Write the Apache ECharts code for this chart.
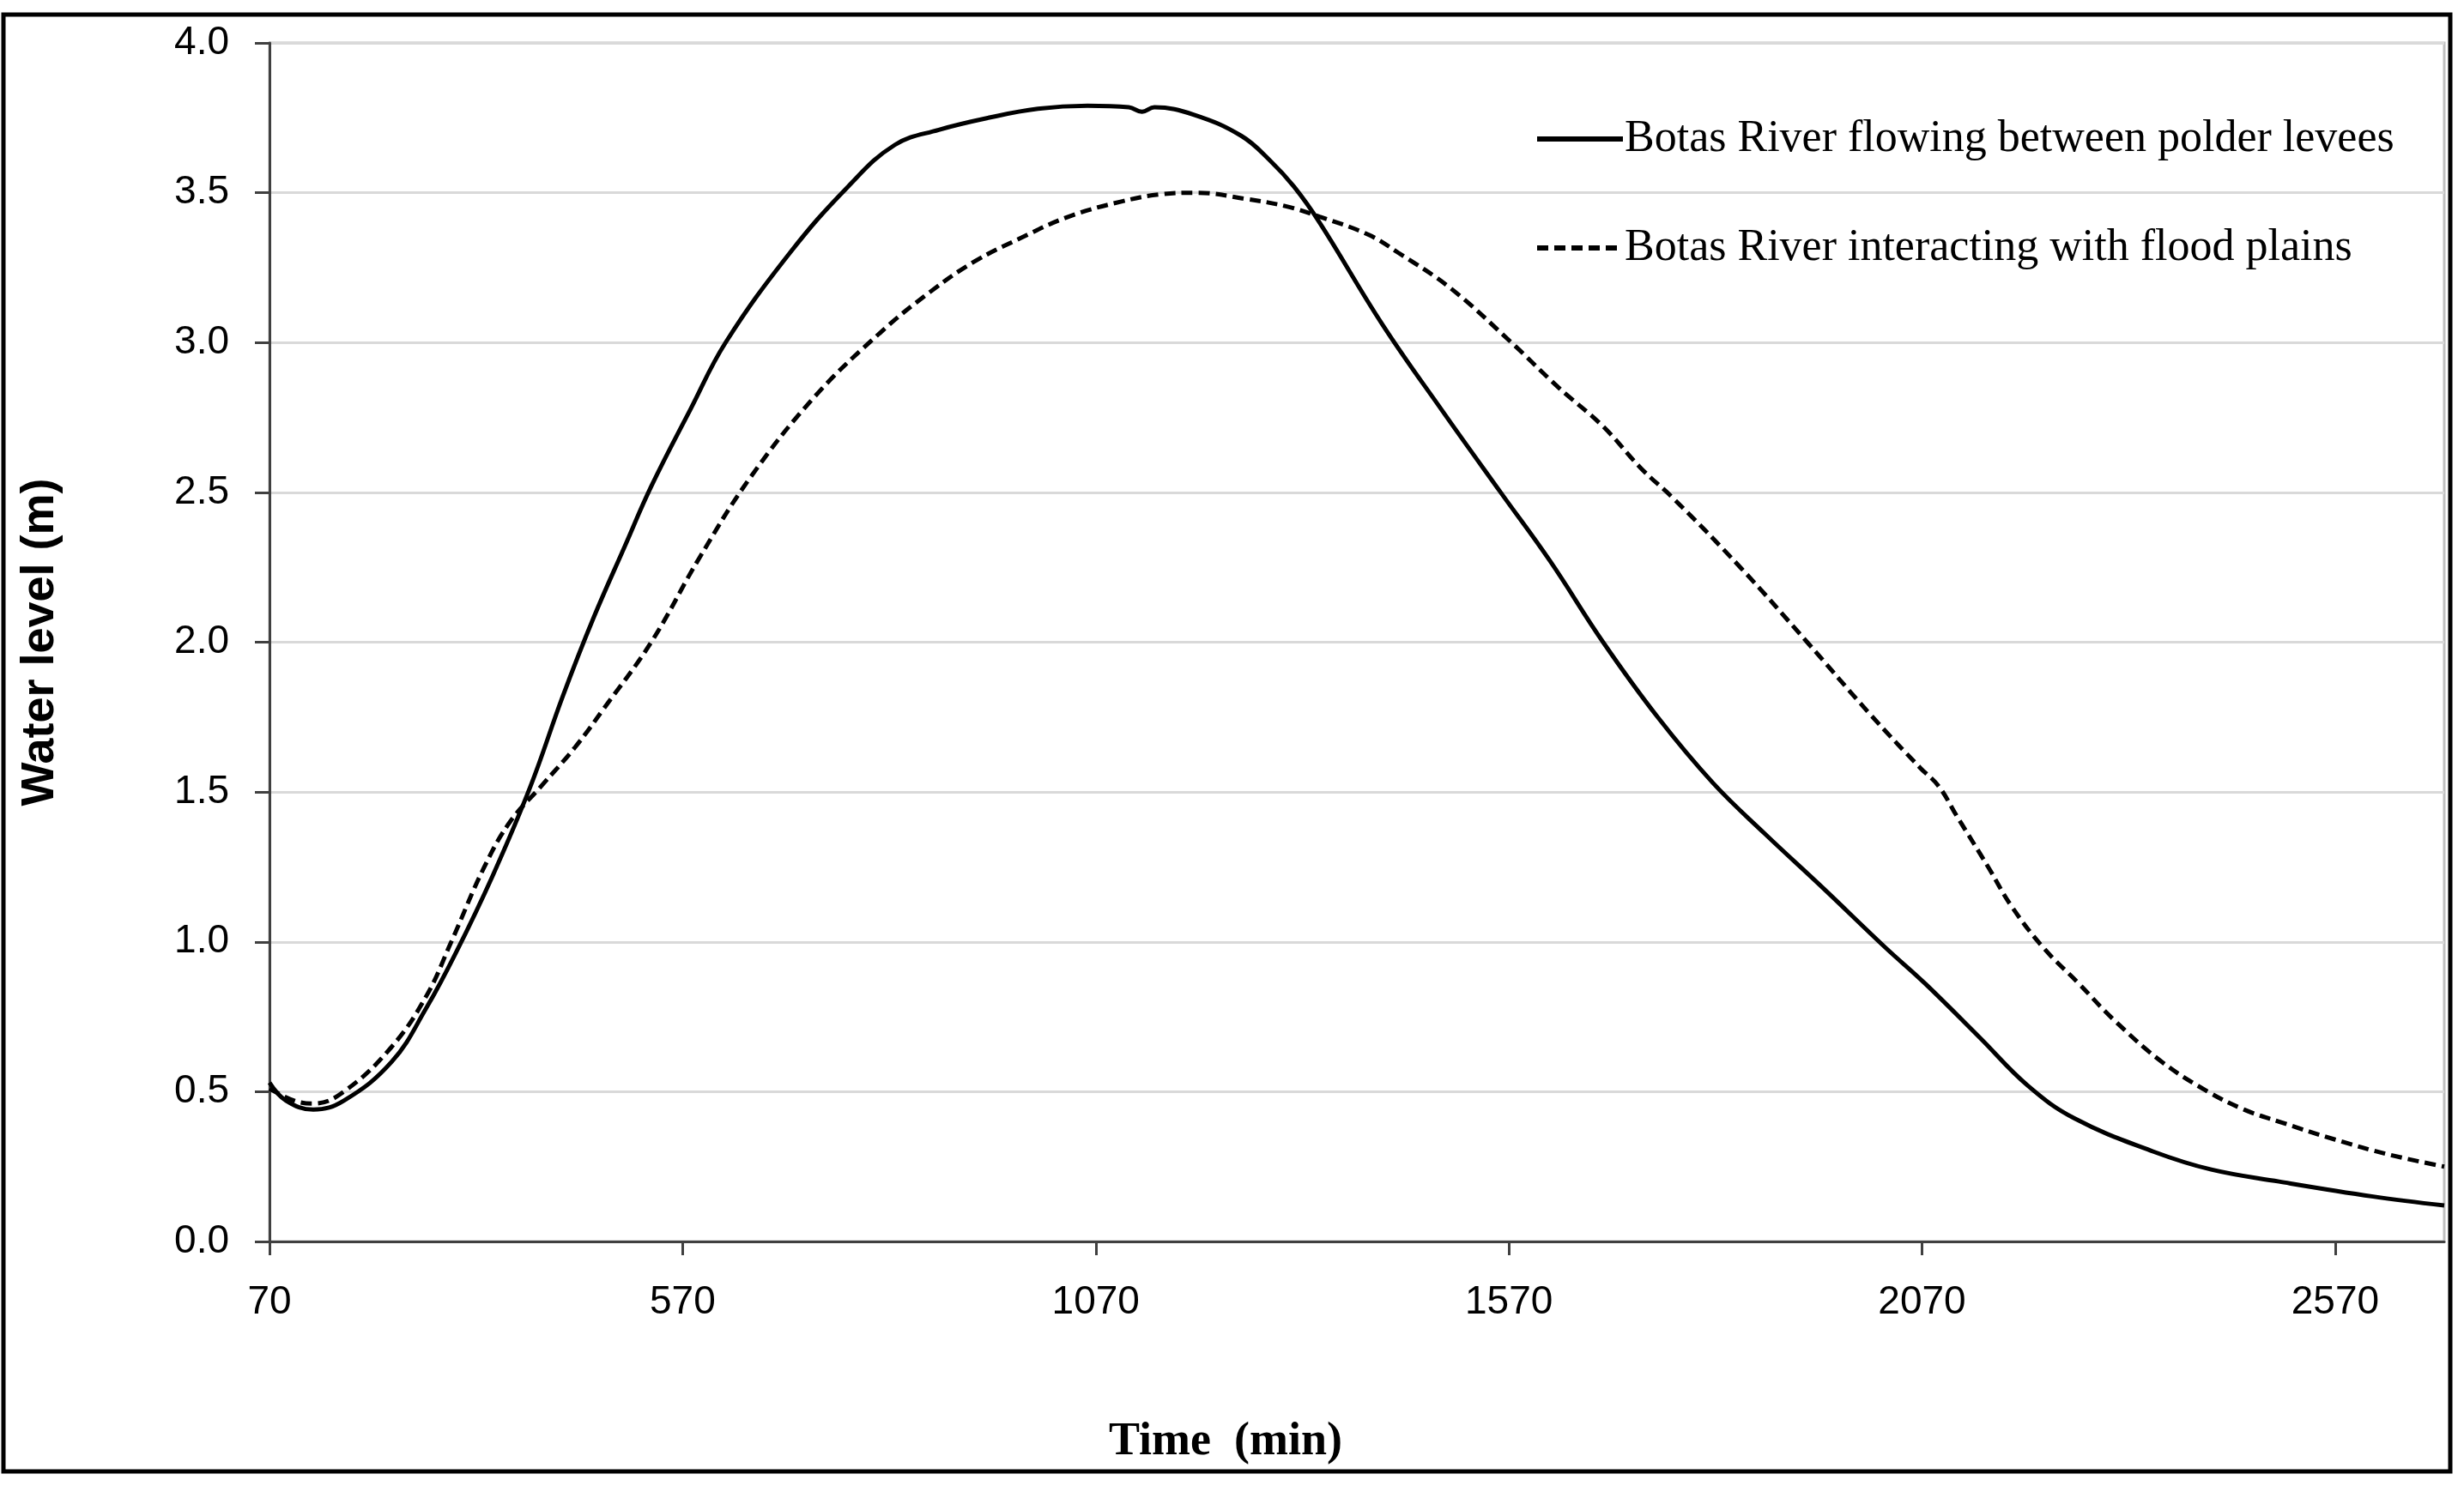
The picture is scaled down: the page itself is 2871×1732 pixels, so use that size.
<!DOCTYPE html>
<html>
<head>
<meta charset="utf-8">
<script src="https://cdn.jsdelivr.net/npm/echarts@6/dist/echarts.min.js"></script>
<style>
html,body{margin:0;padding:0;background:#fff;}
#chart{width:2871px;height:1732px;}
</style>
</head>
<body>
<div id="chart"></div>
<script>
// ---- data ----
const seriesNames = [
  'Botas River flowing between polder levees',
  'Botas River interacting with flood plains'
];
const xTickValues = [70, 570, 1070, 1570, 2070, 2570];
const yTickValues = [0, 0.5, 1, 1.5, 2, 2.5, 3, 3.5, 4];

const polderTime = [70, 90, 123, 160, 218, 260, 295, 340, 386, 425, 462, 500, 532, 580, 622, 700, 770, 827, 880, 940, 1000, 1060, 1110, 1126, 1141, 1189, 1246, 1280, 1310, 1341, 1417, 1490, 1560, 1620, 1684, 1750, 1817, 1880, 1950, 2026, 2074, 2140, 2198, 2255, 2350, 2420, 2502, 2616, 2702];
const polderLevel = [0.53, 0.47, 0.44, 0.47, 0.60, 0.78, 0.96, 1.22, 1.52, 1.82, 2.08, 2.32, 2.52, 2.78, 3.00, 3.30, 3.52, 3.66, 3.71, 3.75, 3.78, 3.79, 3.785, 3.77, 3.785, 3.76, 3.69, 3.61, 3.52, 3.40, 3.06, 2.77, 2.50, 2.27, 2.00, 1.75, 1.53, 1.36, 1.18, 0.98, 0.86, 0.68, 0.52, 0.41, 0.30, 0.24, 0.20, 0.15, 0.12];

const floodTime = [70, 100, 123, 160, 218, 260, 290, 330, 361, 399, 440, 475, 532, 590, 652, 730, 808, 870, 923, 980, 1037, 1100, 1150, 1193, 1250, 1300, 1341, 1400, 1436, 1500, 1573, 1630, 1684, 1730, 1769, 1850, 1931, 2007, 2068, 2090, 2112, 2150, 2178, 2217, 2260, 2302, 2360, 2416, 2460, 2502, 2570, 2635, 2702];
const floodLevel = [0.51, 0.47, 0.46, 0.50, 0.65, 0.82, 1.00, 1.25, 1.40, 1.52, 1.65, 1.78, 2.00, 2.28, 2.55, 2.82, 3.03, 3.17, 3.27, 3.35, 3.42, 3.47, 3.495, 3.50, 3.48, 3.455, 3.42, 3.36, 3.30, 3.18, 3.00, 2.85, 2.72, 2.58, 2.48, 2.25, 2.00, 1.76, 1.58, 1.52, 1.42, 1.25, 1.12, 0.98, 0.86, 0.74, 0.60, 0.50, 0.44, 0.40, 0.34, 0.29, 0.25];

const xMin = 70, xMax = 2702;

function pairs(xs, ys){ return xs.map((x,i)=>[x, ys[i]]); }

const chart = echarts.init(document.getElementById('chart'), null, {renderer:'canvas'});
const option = {
  animation: false,
  backgroundColor: '#fff',
  grid: {left: 314, top: 50, right: 23, bottom: 285, containLabel: false,
         show: true, borderColor: '#bfbfbf', borderWidth: 3, backgroundColor: 'transparent'},
  legend: {
    orient: 'vertical', left: 1783, top: 129, itemWidth: 100, itemHeight: 20, itemGap: 71,
    data: seriesNames,
    itemStyle: {opacity: 0},
    lineStyle: {width: 6},
    textStyle: {fontFamily: '"Liberation Serif", "Times New Roman", serif', fontSize: 52, color: '#000', lineHeight: 56, padding: [0,0,0,-3]}
  },
  xAxis: {
    type: 'value', min: xMin, max: xMax,
    axisLine: {show: true, onZero: false, lineStyle: {color: '#404040', width: 3}},
    axisTick: {show: true, customValues: xTickValues, length: 16, lineStyle: {color: '#404040', width: 3}},
    axisLabel: {customValues: xTickValues, margin: 48, fontFamily: '"Liberation Sans", Arial, sans-serif', fontSize: 46, color: '#000',
                formatter: v => String(v)},
    splitLine: {show: false}
  },
  yAxis: {
    type: 'value', min: 0, max: 4,
    axisLine: {show: true, lineStyle: {color: '#404040', width: 3}},
    axisTick: {show: true, customValues: yTickValues, length: 17, lineStyle: {color: '#404040', width: 3}},
    axisLabel: {customValues: yTickValues, margin: 47, fontFamily: '"Liberation Sans", Arial, sans-serif', fontSize: 46, color: '#000',
                formatter: v => v.toFixed(1)},
    splitLine: {show: true, lineStyle: {color: '#d9d9d9', width: 3}},
    interval: 0.5,
    name: 'Water level (m)', nameLocation: 'middle', nameRotate: 90, nameGap: 240,
    nameTextStyle: {fontFamily: '"Liberation Sans", Arial, sans-serif', fontWeight: 'bold', fontSize: 54, color: '#000'}
  },
  graphic: [
    {type: 'rect', shape: {x: 4, y: 17, width: 2851, height: 1698}, style: {fill: 'none', stroke: '#000', lineWidth: 5}, silent: true},
    {type: 'text', x: 1428, y: 1681, style: {text: 'Time  (min)', fontFamily: '"Liberation Serif", "Times New Roman", serif', fontWeight: 'bold', fontSize: 54, fill: '#000', align: 'center', verticalAlign: 'middle'}}
  ],
  series: [
    {name: seriesNames[0], type: 'line', data: pairs(polderTime, polderLevel), smooth: 0.4, symbol: 'none', showSymbol: false,
     lineStyle: {color: '#000', width: 5, type: 'solid'}, itemStyle: {color: '#000'}},
    {name: seriesNames[1], type: 'line', data: pairs(floodTime, floodLevel), smooth: 0.4, symbol: 'none', showSymbol: false,
     lineStyle: {color: '#000', width: 5, type: [13, 7]}, itemStyle: {color: '#000'}}
  ]
};
chart.setOption(option);
</script>
</body>
</html>
